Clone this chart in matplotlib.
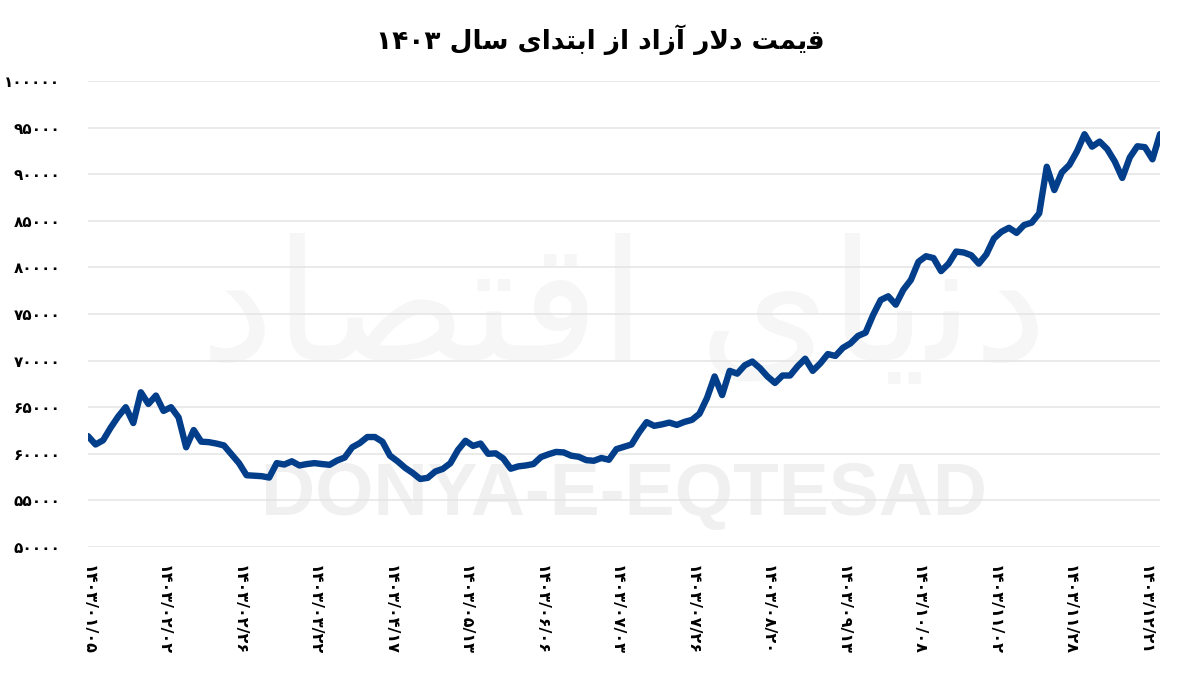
import numpy as np
import matplotlib
matplotlib.use('Agg')
import matplotlib.pyplot as plt
from matplotlib.ticker import FuncFormatter

plt.rcParams['font.family'] = ['DejaVu Sans']

# free-market dollar price (toman)
prices = [
    61900, 61000, 61450, 62800, 64000, 65000, 63300, 66600, 65350, 66250,
    64600, 65000, 63900, 60700, 62550, 61300, 61250, 61100, 60900, 59950,
    59000, 57700, 57650, 57600, 57450, 59000, 58850, 59200, 58750, 58900,
    59000, 58900, 58820, 59280, 59600, 60700, 61150, 61800, 61800, 61300,
    59800, 59200, 58500, 57950, 57300, 57420, 58100, 58380, 58990, 60400,
    61400, 60850, 61100, 60000, 60050, 59500, 58400, 58650, 58750, 58900,
    59650, 59950, 60200, 60150, 59800, 59680, 59320, 59250, 59550, 59360,
    60500, 60750, 61000, 62300, 63400, 63000, 63150, 63350, 63100, 63420,
    63640, 64300, 66000, 68300, 66300, 68900, 68600, 69500, 69900, 69200,
    68300, 67600, 68400, 68400, 69390, 70200, 68900, 69700, 70700, 70500,
    71370, 71850, 72650, 73000, 74900, 76500, 76900, 76000, 77600, 78650,
    80600, 81200, 81000, 79600, 80400, 81700, 81600, 81300, 80400, 81400,
    83100, 83830, 84250, 83700, 84550, 84800, 85800, 90800, 88300, 90200,
    91000, 92450, 94290, 92950, 93500, 92700, 91380, 89600, 91800, 93000,
    92900, 91600, 94300,
]
date_labels = [
    '1403/01/05', '1403/02/02', '1403/02/26', '1403/03/22', '1403/04/17',
    '1403/05/13', '1403/06/06', '1403/07/03', '1403/07/26', '1403/08/20',
    '1403/09/13', '1403/10/08', '1403/11/02', '1403/11/28', '1403/12/21',
]
label_step = 10
y_ticks = [50000, 55000, 60000, 65000, 70000, 75000, 80000, 85000, 90000, 95000, 100000]

# title, pre-shaped Arabic presentation forms in visual order
# "قیمت دلار آزاد از ابتدای سال ۱۴۰۳"
title = ('\u06F1\u06F4\u06F0\u06F3 '
         '\uFEDD\uFE8E\uFEB3 '
         '\uFBFC\uFE8D\uFEAA\uFE98\uFE91\uFE8D '
         '\uFEAF\uFE8D '
         '\uFEA9\uFE8D\uFEAF\uFE81 '
         '\uFEAD\uFEFB\uFEA9 '
         '\uFE96\uFEE4\uFBFE\uFED7')
# watermark "دنیای اقتصاد"
logo = ('\uFEA9\uFE8E\uFEBC\uFE98\uFED7\uFE8D '
        '\uFBFC\uFE8E\uFBFE\uFEE7\uFEA9')

fa = str.maketrans('0123456789', '\u06F0\u06F1\u06F2\u06F3\u06F4\u06F5\u06F6\u06F7\u06F8\u06F9')

fig = plt.figure(figsize=(12, 6.76), dpi=100)
ax = fig.add_axes([88 / 1200, 1 - 547 / 676, 1072 / 1200, 466 / 676])

x = np.arange(len(prices))
ax.plot(x, prices, color='#023e8a', linewidth=4.6, solid_capstyle='round',
        solid_joinstyle='round', zorder=3)

ax.set_xlim(0, len(prices) - 1)
ax.set_ylim(50000, 100000)
ax.set_yticks(y_ticks)
ax.yaxis.set_major_formatter(FuncFormatter(lambda v, p: str(int(v)).translate(fa)))
ax.set_xticks(range(0, label_step * len(date_labels), label_step))
ax.set_xticklabels([d.translate(fa) for d in date_labels], rotation=270,
                   ha='center', va='top')

ax.tick_params(axis='y', length=0, pad=20, labelsize=11)
ax.tick_params(axis='x', length=0, pad=13, labelsize=11.5)
for lab in ax.get_yticklabels() + ax.get_xticklabels():
    lab.set_fontweight('bold')

ax.grid(axis='y', color='#e4e4e4', linewidth=1.1)
ax.set_axisbelow(True)
for s in ax.spines.values():
    s.set_visible(False)

# watermarks
ax.text(0.5, 0.5, logo, transform=ax.transAxes, fontsize=120, color='#f6f6f6',
        ha='center', va='center', zorder=0.1)
ax.text(0.5, 0.11, 'DONYA-E-EQTESAD', transform=ax.transAxes, fontsize=54,
        family='Liberation Sans', fontweight='bold', color='#f0f0f0',
        ha='center', va='center', zorder=0.1)

fig.text(0.5, 1 - 40 / 676, title, ha='center', va='center', fontsize=19,
         fontweight='bold')

fig.savefig('out.png', dpi=100, facecolor='white')
